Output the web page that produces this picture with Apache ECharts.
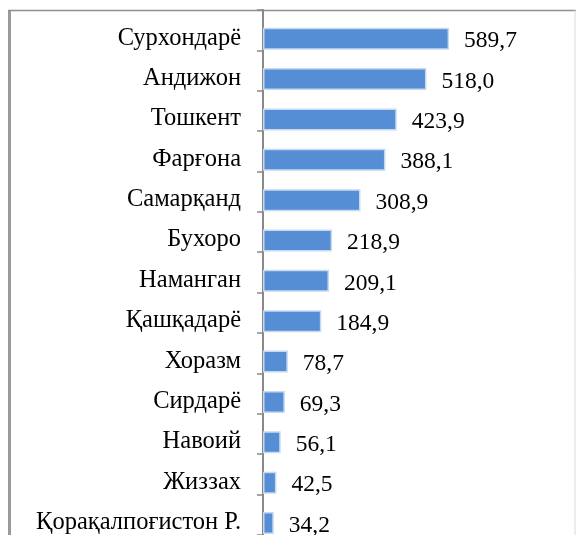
<!DOCTYPE html>
<html>
<head>
<meta charset="utf-8">
<script src="https://cdn.jsdelivr.net/npm/echarts@6/dist/echarts.min.js"></script>
<style>
    html, body { margin: 0; padding: 0; background: #fff; }
    #my_echart { width: 576px; height: 535px; }
</style>
</head>
<body>
<div id="my_echart"></div>
<script>
// вилоятлар (тепадан пастга)
var regions = ['Сурхондарё', 'Андижон', 'Тошкент', 'Фарғона', 'Самарқанд', 'Бухоро', 'Наманган',
    'Қашқадарё', 'Хоразм', 'Сирдарё', 'Навоий', 'Жиззах', 'Қорақалпоғистон Р.'];
var values = [589.7, 518.0, 423.9, 388.1, 308.9, 218.9, 209.1, 184.9, 78.7, 69.3, 56.1, 42.5, 34.2];
// бўш қатор (Excel'даги иккинчи серия), барларни пастга суради
var emptyValues = regions.map(function () { return null; });

var FONT = '"Liberation Serif", "Times New Roman", serif';

var mychart = echarts.init(document.getElementById('my_echart'));

mychart.setOption({
    animation: false,
    grid: {
        left: 263,
        top: 10,
        width: 284,
        height: 527.8
    },
    xAxis: {
        type: 'value',
        min: 0,
        max: 900,
        show: false
    },
    yAxis: {
        type: 'category',
        inverse: true,
        data: regions,
        axisLine: { show: true, lineStyle: { color: '#898989', width: 2 } },
        axisTick: { show: true, inside: false, length: 6, lineStyle: { color: '#898989', width: 1.5 } },
        axisLabel: {
            margin: 22,
            color: '#000',
            fontFamily: FONT,
            fontSize: 24.5,
            verticalAlign: 'top',
            lineHeight: 16
        },
        splitLine: { show: false }
    },
    series: [
        {
            type: 'bar',
            data: emptyValues,
            barWidth: 22,
            barGap: '-23%',
            silent: true
        },
        {
            type: 'bar',
            data: values,
            barWidth: 22,
            itemStyle: {
                color: '#558ED5',
                borderColor: '#C6D9F1',
                borderWidth: 1.5
            },
            label: {
                show: true,
                position: 'right',
                distance: 15,
                offset: [0, 2.5],
                color: '#000',
                fontFamily: FONT,
                fontSize: 23.5,
                formatter: function (p) {
                    return p.value.toFixed(1).replace('.', ',');
                }
            }
        }
    ],
    // диаграмма рамкаси
    graphic: [
        { type: 'line', shape: { x1: 9.5, y1: 10, x2: 9.5, y2: 535 }, style: { stroke: '#9a9a9a', lineWidth: 3 }, silent: true },
        { type: 'line', shape: { x1: 8, y1: 10.5, x2: 576, y2: 10.5 }, style: { stroke: '#8f8f8f', lineWidth: 1.5 }, silent: true },
        { type: 'line', shape: { x1: 575, y1: 10, x2: 575, y2: 535 }, style: { stroke: '#d9d9d9', lineWidth: 1 }, silent: true }
    ]
});
</script>
</body>
</html>
